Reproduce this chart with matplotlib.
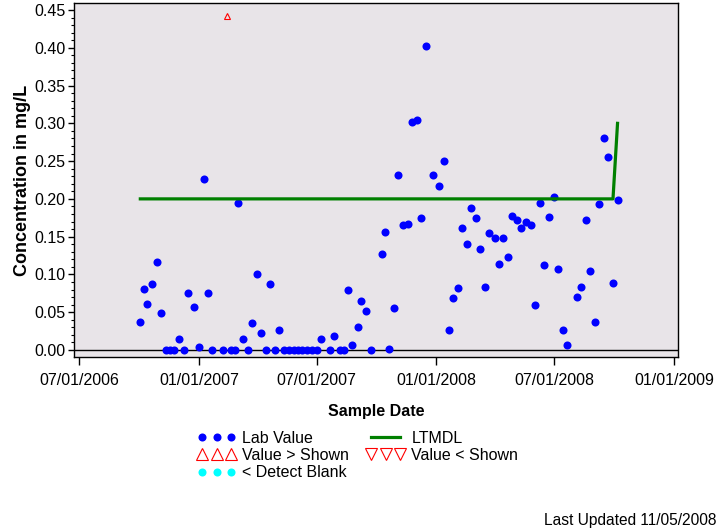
import matplotlib
matplotlib.use("Agg")
import matplotlib.pyplot as plt
import matplotlib.dates as mdates
from matplotlib.lines import Line2D
from matplotlib.ticker import MultipleLocator
import numpy as np

plt.rcParams["font.family"] = ["Liberation Sans", "DejaVu Sans"]

# lab results (mg/L)
lab_dates = [
    "2006-10-03", "2006-10-08", "2006-10-14", "2006-10-21", "2006-10-28", "2006-11-04",
    "2006-11-11", "2006-11-17", "2006-11-24", "2006-12-02", "2006-12-09", "2006-12-16",
    "2006-12-25", "2007-01-02", "2007-01-09", "2007-01-15", "2007-01-22", "2007-02-07",
    "2007-02-19", "2007-02-25", "2007-03-03", "2007-03-10", "2007-03-17", "2007-03-24",
    "2007-03-31", "2007-04-07", "2007-04-14", "2007-04-21", "2007-04-28", "2007-05-05",
    "2007-05-12", "2007-05-19", "2007-05-27", "2007-06-03", "2007-06-09", "2007-06-16",
    "2007-06-24", "2007-07-01", "2007-07-08", "2007-07-21", "2007-07-28", "2007-08-06",
    "2007-08-12", "2007-08-19", "2007-08-25", "2007-09-03", "2007-09-08", "2007-09-15",
    "2007-09-23", "2007-10-10", "2007-10-14", "2007-10-21", "2007-10-28", "2007-11-04",
    "2007-11-11", "2007-11-18", "2007-11-25", "2007-12-02", "2007-12-09", "2007-12-17",
    "2007-12-27", "2008-01-06", "2008-01-13", "2008-01-21", "2008-01-27", "2008-02-04",
    "2008-02-10", "2008-02-18", "2008-02-24", "2008-03-02", "2008-03-09", "2008-03-16",
    "2008-03-23", "2008-03-31", "2008-04-06", "2008-04-13", "2008-04-20", "2008-04-27",
    "2008-05-05", "2008-05-11", "2008-05-18", "2008-05-26", "2008-06-01", "2008-06-08",
    "2008-06-15", "2008-06-22", "2008-06-30", "2008-07-06", "2008-07-14", "2008-07-20",
    "2008-08-04", "2008-08-11", "2008-08-18", "2008-08-24", "2008-09-02", "2008-09-08",
    "2008-09-15", "2008-09-22", "2008-09-29", "2008-10-06",
]
lab_values = [
    0.037, 0.081, 0.061, 0.087, 0.116, 0.049,
    0.000, 0.000, 0.000, 0.015, 0.000, 0.076,
    0.057, 0.004, 0.226, 0.076, 0.000, 0.000,
    0.000, 0.000, 0.195, 0.015, 0.000, 0.036,
    0.101, 0.023, 0.000, 0.087, 0.000, 0.026,
    0.000, 0.000, 0.000, 0.000, 0.000, 0.000,
    0.000, 0.000, 0.015, 0.000, 0.018, 0.000,
    0.000, 0.080, 0.006, 0.030, 0.065, 0.052,
    0.000, 0.127, 0.156, 0.001, 0.056, 0.232,
    0.165, 0.167, 0.302, 0.304, 0.175, 0.402,
    0.231, 0.217, 0.250, 0.026, 0.069, 0.082,
    0.162, 0.140, 0.188, 0.175, 0.134, 0.084,
    0.155, 0.148, 0.114, 0.148, 0.123, 0.177,
    0.172, 0.162, 0.169, 0.166, 0.060, 0.194,
    0.112, 0.176, 0.202, 0.107, 0.026, 0.006,
    0.070, 0.083, 0.172, 0.104, 0.037, 0.193,
    0.280, 0.256, 0.088, 0.199,
]

# values greater than shown
above_dates = ["2007-02-13"]
above_values = [0.442]

# long term method detection limit
ltmdl_dates = ["2006-10-03", "2008-09-29", "2008-10-06"]
ltmdl_values = [0.20, 0.20, 0.30]

x_tick_dates = ["2006-07-01", "2007-01-01", "2007-07-01", "2008-01-01", "2008-07-01", "2009-01-01"]
y_ticks = [0.00, 0.05, 0.10, 0.15, 0.20, 0.25, 0.30, 0.35, 0.40, 0.45]


def to_dates(values):
    return np.array(values, dtype="datetime64[D]")


fig = plt.figure(figsize=(7.2, 5.28), dpi=100)
ax = fig.add_axes([74 / 720, 1 - 357 / 528, 604 / 720, 354 / 528])
ax.set_facecolor("#e8e4e8")

ax.axhline(0, color="black", linewidth=1.0, zorder=1.5)
ax.plot(to_dates(lab_dates), lab_values, linestyle="none", marker="o", markersize=5.8,
        color="#0000ff", markeredgewidth=0, zorder=2)
ax.plot(to_dates(above_dates), above_values, linestyle="none", marker="^", markersize=5,
        markerfacecolor="none", markeredgecolor="#ff0000", markeredgewidth=0.8, zorder=2)
ax.plot(to_dates(ltmdl_dates), ltmdl_values, color="#008000", linewidth=2.3, zorder=3)

ax.set_xlim(np.datetime64("2006-06-23"), np.datetime64("2009-01-07"))
ax.set_ylim(-0.0093, 0.4593)
ax.set_xticks(to_dates(x_tick_dates))
ax.xaxis.set_major_formatter(mdates.DateFormatter("%m/%d/%Y"))
ax.set_yticks(y_ticks)
ax.yaxis.set_major_formatter(matplotlib.ticker.FormatStrFormatter("%.2f"))
ax.yaxis.set_minor_locator(MultipleLocator(0.01))

ax.tick_params(axis="x", length=5.8, width=1, pad=6, labelsize=11.5)
ax.tick_params(axis="y", which="major", length=4.3, width=1, pad=2, labelsize=11.5)
ax.tick_params(axis="y", which="minor", length=2.2, width=0.8)
for spine in ax.spines.values():
    spine.set_linewidth(1.0)

ax.set_ylabel("Concentration in mg/L", fontsize=13, fontweight="bold", labelpad=2)
ax.set_xlabel("Sample Date", fontsize=11.5, fontweight="bold", labelpad=11)

handles = [
    Line2D([], [], linestyle="none", marker="o", markersize=5.8, color="#0000ff", markeredgewidth=0),
    Line2D([], [], linestyle="none", marker="^", markersize=8.5, markerfacecolor="none",
           markeredgecolor="#ff0000", markeredgewidth=0.8),
    Line2D([], [], linestyle="none", marker="o", markersize=5.8, color="#00ffff", markeredgewidth=0),
    Line2D([], [], color="#008000", linewidth=2.3),
    Line2D([], [], linestyle="none", marker="v", markersize=8.5, markerfacecolor="none",
           markeredgecolor="#ff0000", markeredgewidth=0.8),
]
labels = ["Lab Value", "Value > Shown", "< Detect Blank", "LTMDL", "Value < Shown"]
fig.legend(handles, labels, loc="upper left", bbox_to_anchor=(197.5 / 720, 1 - 431 / 528),
           ncol=2, frameon=False, fontsize=11.5, numpoints=3, handlelength=2.4,
           handletextpad=0.4, columnspacing=1.1, labelspacing=0.13, borderpad=0,
           borderaxespad=0)

fig.text(717 / 720, 1 - 520 / 528, "Last Updated 11/05/2008", ha="right", va="center",
         fontsize=11.2)

fig.savefig("out.png", dpi=100)
